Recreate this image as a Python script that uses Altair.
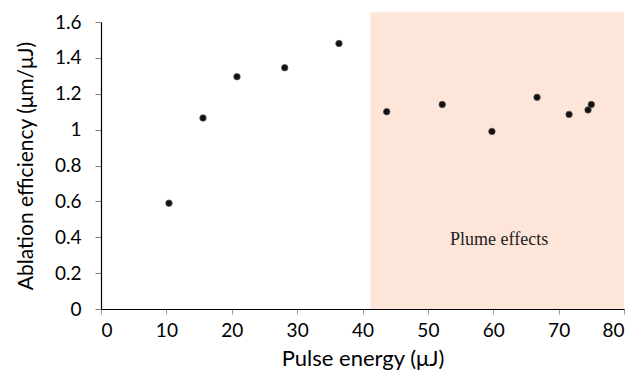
import altair as alt
import pandas as pd

energy = [10.4, 15.6, 20.8, 28.1, 36.4, 43.7, 52.2, 59.8, 66.7, 71.6, 74.5, 75.0]
efficiency = [0.59, 1.065, 1.295, 1.345, 1.48, 1.10, 1.14, 0.99, 1.18, 1.085, 1.11, 1.14]

region_x = [41.2, 80]
region_y = [0, 1.655]
label_text = ["Plume effects"]
label_x = [60.9]
label_y = [0.385]
x_ticks = [0, 10, 20, 30, 40, 50, 60, 70, 80]
y_ticks = [0, 0.2, 0.4, 0.6, 0.8, 1, 1.2, 1.4, 1.6]

pts = pd.DataFrame({"energy": energy, "eff": efficiency})
region = pd.DataFrame({"x1": [region_x[0]], "x2": [region_x[1]], "y1": [region_y[0]], "y2": [region_y[1]]})
lab = pd.DataFrame({"t": label_text, "x": label_x, "y": label_y})

xscale = alt.Scale(domain=[0, 80], nice=False)
yscale = alt.Scale(domain=[0, 1.6], nice=False)

xaxis = alt.Axis(title="Pulse energy (μJ)", values=x_ticks,
                 grid=False, tickColor="#999999", tickSize=5,
                 labelPadding=7, domainColor="#000000", titlePadding=8,
                 titleFontSize=22, labelOverlap=False)
yaxis = alt.Axis(title="Ablation efficiency (μm/μJ)", values=y_ticks,
                 format="~g", grid=False, tickColor="#808080", tickSize=6,
                 labelPadding=14, domainColor="#000000", titlePadding=18,
                 titleFontSize=21, labelOverlap=False)

rect = alt.Chart(region).mark_rect(color="#FDE5DA").encode(
    x=alt.X("x1:Q", scale=xscale, axis=xaxis),
    x2="x2:Q",
    y=alt.Y("y1:Q", scale=yscale, axis=yaxis),
    y2="y2:Q",
)

dots = alt.Chart(pts).mark_circle(size=42, color="#111111", opacity=1,
                                  stroke="#555555", strokeWidth=0.8).encode(
    x=alt.X("energy:Q", scale=xscale, axis=xaxis),
    y=alt.Y("eff:Q", scale=yscale, axis=yaxis),
)

text = alt.Chart(lab).mark_text(font="Liberation Serif", fontSize=18, color="#222222").encode(
    x=alt.X("x:Q", scale=xscale, axis=xaxis),
    y=alt.Y("y:Q", scale=yscale, axis=yaxis),
    text="t:N",
)

chart = alt.layer(rect, dots, text).properties(
    width=523, height=287,
    autosize=alt.AutoSizeParams(type="none"),
    padding={"left": 93, "top": 14, "right": 12, "bottom": 62},
).configure_view(stroke=None).configure_axis(
    labelFont="Lato", titleFont="Lato", labelFontSize=19,
    labelColor="#000000", titleColor="#000000", titleFontWeight="normal",
    domainWidth=1.2, labelOverlap=False,
)

chart.save("out.html", embed_options={"renderer": "svg", "actions": False})
